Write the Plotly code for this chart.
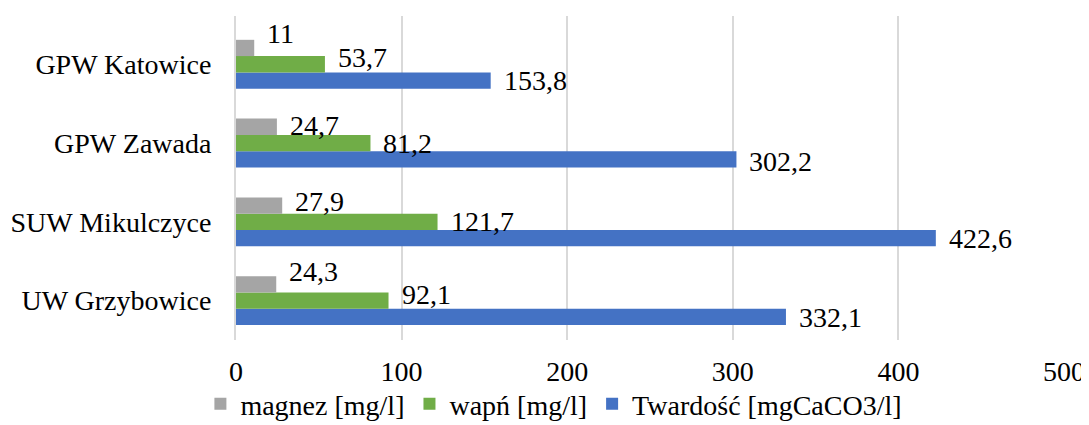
import plotly.graph_objects as go

categories = ["UW Grzybowice", "SUW Mikulczyce", "GPW Zawada", "GPW Katowice"]
magnez = [24.3, 27.9, 24.7, 11.0]
wapn = [92.1, 121.7, 81.2, 53.7]
twardosc = [332.1, 422.6, 302.2, 153.8]
magnez_labels = ["24,3", "27,9", "24,7", "11"]
wapn_labels = ["92,1", "121,7", "81,2", "53,7"]
twardosc_labels = ["332,1", "422,6", "302,2", "153,8"]
x_ticks = [0, 100, 200, 300, 400, 500]

FONT = "Liberation Serif, Times New Roman, serif"
FS = 28
GRAY, GREEN, BLUE = "#A5A5A5", "#70AD47", "#4472C4"

fig = go.Figure()
# traces added bottom-to-top within each group
fig.add_trace(go.Bar(y=categories, x=twardosc, orientation="h", name="Twardość [mgCaCO3/l]",
                     marker=dict(color=BLUE, line=dict(width=0))))
fig.add_trace(go.Bar(y=categories, x=wapn, orientation="h", name="wapń [mg/l]",
                     marker=dict(color=GREEN, line=dict(width=0))))
fig.add_trace(go.Bar(y=categories, x=magnez, orientation="h", name="magnez [mg/l]",
                     marker=dict(color=GRAY, line=dict(width=0))))

bar_px = 81 * 0.62 / 3
# small per-label vertical nudges (px, up positive), like the original's label placement
nudge_magnez = [12, 4, 1, 14]
nudge_wapn = [6, 0, 0, 7]
nudge_tw = [0, 0, -2, 0]

annotations = []
for vals, labels, off, nudges in [(magnez, magnez_labels, bar_px, nudge_magnez),
                                  (wapn, wapn_labels, 0, nudge_wapn),
                                  (twardosc, twardosc_labels, -bar_px, nudge_tw)]:
    for c, v, t, n in zip(categories, vals, labels, nudges):
        annotations.append(dict(x=v, y=c, xref="x", yref="y", text=t, showarrow=False,
                                xanchor="left", yanchor="middle", xshift=11,
                                yshift=off + n,
                                font=dict(family=FONT, size=FS, color="black")))

fig.update_layout(
    width=1081, height=417,
    margin=dict(l=228, r=25, t=8, b=85, autoexpand=False),
    paper_bgcolor="white", plot_bgcolor="white",
    barmode="group", bargap=0.38, bargroupgap=0,
    font=dict(family=FONT, size=FS, color="black"),
    annotations=annotations,
    showlegend=True,
    legend=dict(orientation="h", traceorder="reversed", xref="container", yref="container",
                x=0.505, xanchor="center", y=0.05, yanchor="middle",
                font=dict(family=FONT, size=FS, color="black"),
                itemwidth=30, bgcolor="rgba(0,0,0,0)"),
    xaxis=dict(range=[0, 500], tickvals=x_ticks, showgrid=True, gridcolor="#D9D9D9", gridwidth=2,
               zeroline=False, showline=False, ticks="outside", ticklen=6, automargin=False,
               tickcolor="rgba(0,0,0,0)", tickfont=dict(family=FONT, size=FS, color="black")),
    yaxis=dict(categoryorder="array", categoryarray=categories, showgrid=False, zeroline=False,
               showline=True, linecolor="#D9D9D9", linewidth=2, automargin=False,
               ticks="outside", ticklen=17, tickcolor="rgba(0,0,0,0)",
               tickfont=dict(family=FONT, size=FS, color="black")),
)

fig.write_html("out.html")
